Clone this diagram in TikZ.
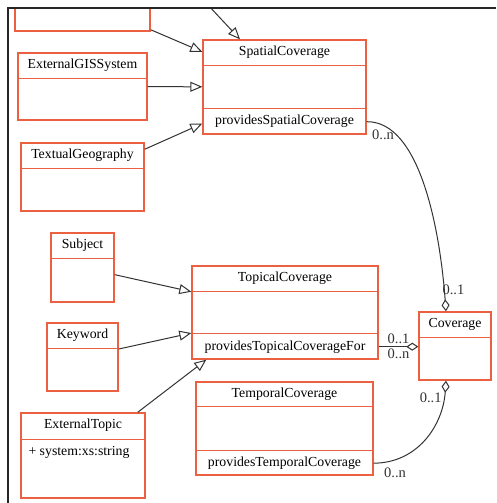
\documentclass[tikz,border=0pt]{standalone}
\usepackage{fontspec}
\setmainfont{Liberation Serif}
\usetikzlibrary{arrows.meta, positioning}

\definecolor{umlred}{RGB}{234,96,64}
\newcommand{\umlfont}{\fontsize{13.8}{16}\selectfont}
\newcommand{\multfont}{\fontsize{14.5}{16}\selectfont}

\begin{document}
\begin{tikzpicture}[
  x=1pt, y=-1pt,
  cls/.style={rectangle, draw=umlred, line width=1.4pt, inner sep=0pt},
  sep/.style={draw=umlred, line width=1.4pt},
  title/.style={font=\umlfont, inner sep=0pt},
  mult/.style={font=\multfont, inner sep=0pt},
  gen/.style={-{Triangle[open, length=12pt, width=10pt]}, line width=1pt, black!80},
  agg/.style={-{Diamond[open, length=12pt, width=8pt]}, line width=1pt, black!80}
]
\useasboundingbox (0,0) rectangle (496,503);

\begin{scope}
\clip (8,8) rectangle (496,503);

% classes
\node[cls, minimum width=135, minimum height=61] (toppart) at (82.5,0.5) {};
\coordinate (upper) at (180,-25);

\node[cls, minimum width=163, minimum height=94] (spatial) at (284.5,87) {};
\node[title] at ([yshift=-13]spatial.north) {SpatialCoverage};
\draw[sep] ([yshift=-26]spatial.north west) -- ([yshift=-26]spatial.north east);
\draw[sep] ([yshift=26]spatial.south west) -- ([yshift=26]spatial.south east);
\node[title] (sprov) at ([yshift=13]spatial.south) {providesSpatialCoverage};

\node[cls, minimum width=129, minimum height=67] (gis) at (82.5,86.5) {};
\node[title] at ([yshift=-13]gis.north) {ExternalGISSystem};
\draw[sep] ([yshift=-26]gis.north west) -- ([yshift=-26]gis.north east);

\node[cls, minimum width=123, minimum height=68] (textgeo) at (82.5,177) {};
\node[title] at ([yshift=-13]textgeo.north) {TextualGeography};
\draw[sep] ([yshift=-26]textgeo.north west) -- ([yshift=-26]textgeo.north east);

\node[cls, minimum width=63, minimum height=69] (subject) at (82.5,267.5) {};
\node[title] at ([yshift=-13]subject.north) {Subject};
\draw[sep] ([yshift=-26]subject.north west) -- ([yshift=-26]subject.north east);

\node[cls, minimum width=186, minimum height=93] (topical) at (285,312.5) {};
\node[title] at ([yshift=-13]topical.north) {TopicalCoverage};
\draw[sep] ([yshift=-26]topical.north west) -- ([yshift=-26]topical.north east);
\draw[sep] ([yshift=26]topical.south west) -- ([yshift=26]topical.south east);
\node[title] (tprov) at ([yshift=13]topical.south) {providesTopicalCoverageFor};

\node[cls, minimum width=71, minimum height=68] (keyword) at (82.5,357) {};
\node[title] at ([yshift=-13]keyword.north) {Keyword};
\draw[sep] ([yshift=-26]keyword.north west) -- ([yshift=-26]keyword.north east);

\node[cls, minimum width=124, minimum height=85] (etopic) at (83,455.5) {};
\node[title] at ([yshift=-13]etopic.north) {ExternalTopic};
\draw[sep] ([yshift=-27]etopic.north west) -- ([yshift=-27]etopic.north east);
\node[title, anchor=west] at ([xshift=8, yshift=-40]etopic.north west) {+ system:xs:string};

\node[cls, minimum width=177, minimum height=93] (temporal) at (284.5,428.5) {};
\node[title] at ([yshift=-12.5]temporal.north) {TemporalCoverage};
\draw[sep] ([yshift=-25]temporal.north west) -- ([yshift=-25]temporal.north east);
\draw[sep] ([yshift=25]temporal.south west) -- ([yshift=25]temporal.south east);
\node[title] (tmprov) at ([yshift=12.5]temporal.south) {providesTemporalCoverage};

\node[cls, minimum width=72, minimum height=68] (coverage) at (455,346) {};
\node[title] at ([yshift=-13]coverage.north) {Coverage};
\draw[sep] ([yshift=-26]coverage.north west) -- ([yshift=-26]coverage.north east);

% generalisations
\draw[gen] (upper) -- (spatial);
\draw[gen] (toppart) -- (spatial);
\draw[gen] (gis) -- (spatial);
\draw[gen] (textgeo) -- (spatial);
\draw[gen] (subject) -- (topical);
\draw[gen] (keyword) -- (topical);
\draw[gen] ([xshift=-8]etopic.north east) -- ([xshift=15]topical.south west);

% aggregations
\draw[agg] (spatial.east |- sprov)
  .. controls (420,121) and (440,230) .. ([xshift=-9]coverage.north)
  node[mult, at start, anchor=north west, xshift=5, yshift=-8] {0..n}
  node[mult, at end, anchor=south west, xshift=-4, yshift=16] {0..1};
\draw[agg] (topical.east |- tprov) -- (coverage.west |- tprov)
  node[mult, midway, above=2pt] {0..1}
  node[mult, midway, below=2pt] {0..n};
\draw[agg] (temporal.east |- tmprov)
  .. controls (418,463) and (443,425) .. ([xshift=-9]coverage.south)
  node[mult, at start, anchor=north west, xshift=10, yshift=-4] {0..n}
  node[mult, at end, anchor=north east, xshift=-4, yshift=-12] {0..1};
\end{scope}

% frame
\draw[line width=1.6pt, black!85] (8,503) -- (8,8) -- (496,8);
\end{tikzpicture}
\end{document}
